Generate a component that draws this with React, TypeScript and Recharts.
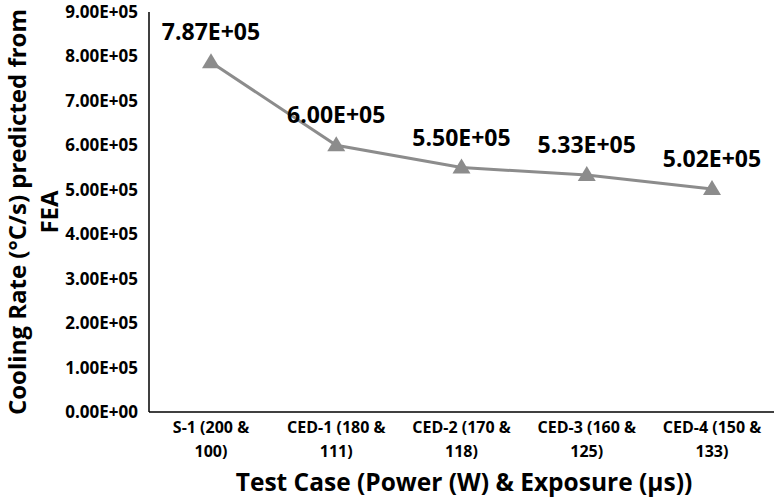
import { LineChart, Line, XAxis, YAxis, LabelList } from 'recharts'

const categories = [
  'S-1 (200 &\n100)',
  'CED-1 (180 &\n111)',
  'CED-2 (170 &\n118)',
  'CED-3 (160 &\n125)',
  'CED-4 (150 &\n133)',
]
const coolingRate = [787000, 600000, 550000, 533000, 502000]
const yTicks = [0, 100000, 200000, 300000, 400000, 500000, 600000, 700000, 800000, 900000]

const data = categories.map((c, i) => ({ name: c, rate: coolingRate[i] }))

const FONT = '"Open Sans", Lato, sans-serif'

// Excel-style scientific notation, e.g. 7.87E+05
function sci(v: number) {
  if (v === 0) return '0.00E+00'
  const exp = Math.floor(Math.log10(Math.abs(v)))
  const mant = v / Math.pow(10, exp)
  const sign = exp < 0 ? '-' : '+'
  return `${mant.toFixed(2)}E${sign}${String(Math.abs(exp)).padStart(2, '0')}`
}

function XTick({ x, y, payload }: any) {
  const lines = String(payload.value).split('\n')
  return (
    <text x={x} y={y} textAnchor="middle" fontFamily={FONT} fontWeight={700} fontSize={16} fill="#000">
      {lines.map((l, i) => (
        <tspan key={i} x={x} dy={i === 0 ? 13 : 24}>{l}</tspan>
      ))}
    </text>
  )
}

function Triangle({ cx, cy }: any) {
  if (cx == null || cy == null) return null
  return <polygon points={`${cx - 9},${cy + 6} ${cx + 9},${cy + 6} ${cx},${cy - 9}`} fill="#8c8c8c" />
}

export default function App() {
  return (
    <div style={{ position: 'absolute', left: 0, top: 0, width: 776, height: 499, background: '#fff' }}>
      <LineChart width={776} height={499} data={data} margin={{ top: 12, right: 2, left: 0, bottom: 0 }}>
        <XAxis
          dataKey="name"
          interval={0}
          height={87}
          padding={{ left: 62, right: 62 }}
          tick={<XTick />}
          tickLine={false}
          axisLine={{ stroke: '#000', strokeWidth: 1.5 }}
        />
        <YAxis
          width={149}
          domain={[0, 900000]}
          ticks={yTicks}
          tickFormatter={sci}
          tickLine={false}
          axisLine={{ stroke: '#000', strokeWidth: 1.5 }}
          tick={{ fontFamily: FONT, fontWeight: 700, fontSize: 17, fill: '#000' }}
          tickMargin={5}
        />
        <Line
          dataKey="rate"
          stroke="#8c8c8c"
          strokeWidth={3}
          dot={<Triangle />}
          activeDot={false}
          isAnimationActive={false}
        >
          <LabelList
            dataKey="rate"
            position="top"
            offset={22}
            formatter={(v: any) => sci(Number(v))}
            style={{ fontFamily: FONT, fontWeight: 700, fontSize: 23, fill: '#000' }}
          />
        </Line>
        <text
          transform="translate(26,212) rotate(-90)"
          textAnchor="middle"
          fontFamily={FONT}
          fontWeight={700}
          fontSize={24}
          fill="#000"
        >
          <tspan x={0} dy={0}>Cooling Rate (°C/s) predicted from</tspan>
          <tspan x={0} dy={32}>FEA</tspan>
        </text>
        <text x={464} y={491} textAnchor="middle" fontFamily={FONT} fontWeight={700} fontSize={24.5} fill="#000">
          Test Case (Power (W) &amp; Exposure (µs))
        </text>
      </LineChart>
    </div>
  )
}
